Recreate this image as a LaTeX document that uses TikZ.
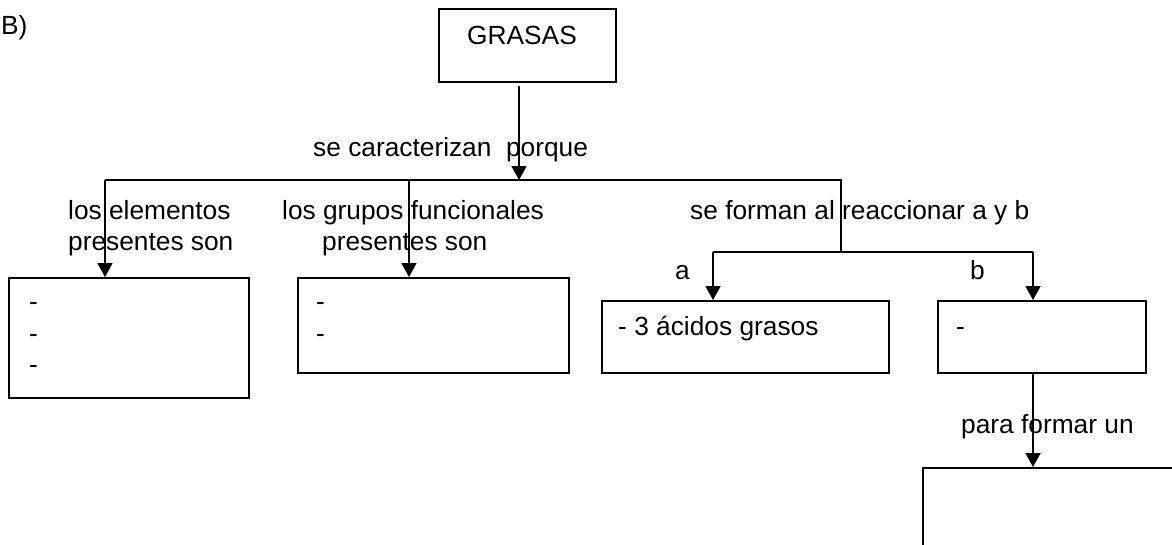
\documentclass[tikz,border=0pt]{standalone}
\usepackage{fontspec}
\setmainfont{Liberation Sans}
\usetikzlibrary{arrows.meta}
\begin{document}
\begin{tikzpicture}[x=1pt,y=-1pt,
  ln/.style={draw=black,line width=1.8pt},
  arr/.style={ln,-{Triangle[width=15pt,length=14pt]}},
  box/.style={draw=black,line width=1.8pt,rectangle,inner sep=0pt,anchor=north west},
  txt/.style={inner sep=0pt,anchor=base west,font=\fontsize{26.3}{31.5}\selectfont}]
\useasboundingbox (0,0) rectangle (1172,544);
\clip (0,0) rectangle (1172,544);
% boxes
\node[box,minimum width=177pt,minimum height=73pt] (grasas) at (438,8) {};
\node[box,minimum width=240pt,minimum height=120pt] (box1) at (8,277) {};
\node[box,minimum width=271pt,minimum height=95pt] (box2) at (297,277) {};
\node[box,minimum width=287pt,minimum height=72pt] (boxa) at (601,300) {};
\node[box,minimum width=208pt,minimum height=72pt] (boxb) at (937,300) {};
\node[box,minimum width=300pt,minimum height=120pt] (boxc) at (922,467) {};
% texts
\node[txt] (tB) at (1,34) {B)};
\node[txt] (tG) at (467,44) {GRASAS};
\node[txt] (tcar) at (313,156) {se caracterizan~~porque};
\node[txt] (tel1) at (68,219) {los elementos};
\node[txt] (tel2) at (68,250) {presentes son};
\node[txt] (tgr1) at (282,219) {los grupos funcionales};
\node[txt] (tgr2) at (322,250) {presentes son};
\node[txt] (tfor) at (690,219) {se forman al reaccionar a y b};
\node[txt] (ta) at (675,279) {a};
\node[txt] (tb) at (970,279) {b};
\node[txt] (d11) at (29,310) {-};
\node[txt] (d12) at (29,342) {-};
\node[txt] (d13) at (29,373) {-};
\node[txt] (d21) at (316,310) {-};
\node[txt] (d22) at (316,342) {-};
\node[txt] (tacid) at (618,335) {- 3 ácidos grasos};
\node[txt] (db) at (956,335) {-};
\node[txt] (tpara) at (961,433) {para formar un};
% connectors
\coordinate (j0) at (519,180);
\coordinate (hL) at (105,180);
\coordinate (hM) at (409,180);
\coordinate (hR) at (841,180);
\coordinate (h2) at (841,252);
\coordinate (h2L) at (713,252);
\coordinate (h2R) at (1033,252);
\draw[arr] ([yshift=-3pt]grasas.south -| j0) -- (j0);
\draw[ln] (hL) -- (hR) -- (h2);
\draw[ln] (h2L) -- (h2R);
\draw[arr] (hL) -- (hL |- box1.north);
\draw[arr] (hM) -- (hM |- box2.north);
\draw[arr] (h2L) -- (h2L |- boxa.north);
\draw[arr] (h2R) -- (h2R |- boxb.north);
\draw[arr] (boxb.south -| h2R) -- (h2R |- boxc.north);
\end{tikzpicture}
\end{document}
